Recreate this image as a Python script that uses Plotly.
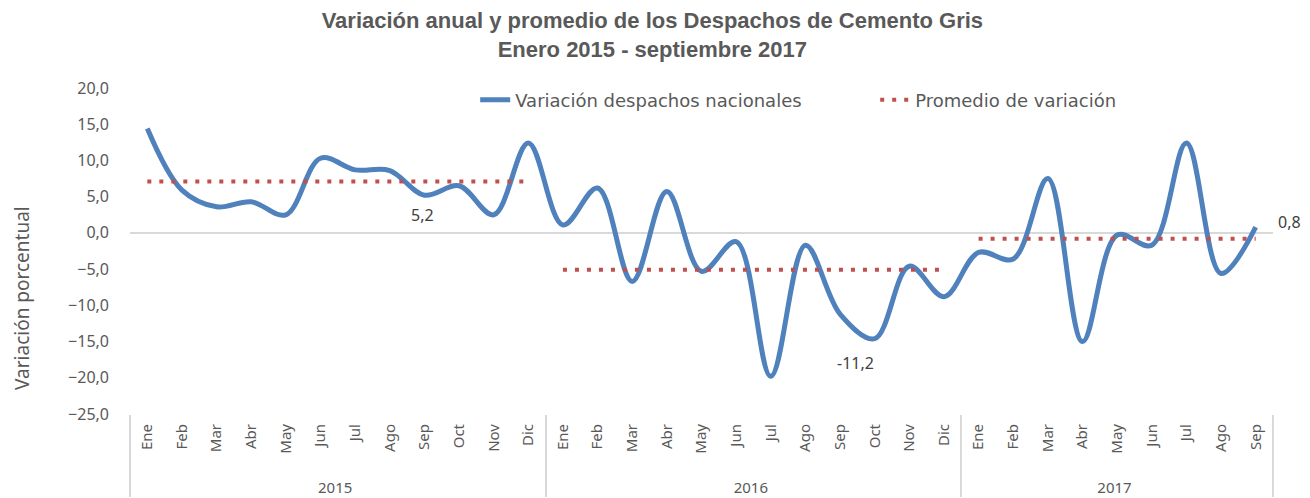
import plotly.graph_objects as go

months = ["Ene", "Feb", "Mar", "Abr", "May", "Jun", "Jul", "Ago", "Sep", "Oct", "Nov", "Dic"]
years = ["2015", "2016", "2017"]
months_per_year = [12, 12, 9]

values_2015 = [14.4, 5.9, 3.6, 4.3, 2.5, 10.3, 8.7, 8.6, 5.2, 6.5, 2.5, 12.4]
values_2016 = [1.1, 6.2, -6.7, 5.7, -5.3, -1.2, -19.8, -1.7, -11.2, -14.6, -4.6, -8.8]
values_2017 = [-2.7, -3.6, 7.5, -15.0, -0.3, -1.7, 12.4, -5.6, 0.8]
averages = [7.1, -5.1, -0.8]

series = [values_2015, values_2016, values_2017]

# month labels padded with non-breaking spaces so the year row sits lower, as in the reference
PAD = "\u00a0" * 4
month_labels = [PAD + m for m in months]

x_year, x_month, y_all = [], [], []
for yr, n, vals in zip(years, months_per_year, series):
    x_year += [yr] * n
    x_month += month_labels[:n]
    y_all += vals

fig = go.Figure()
fig.add_trace(go.Scatter(
    x=[x_year, x_month], y=y_all, mode="lines",
    line=dict(color="#4F81BD", width=5, shape="spline", smoothing=1.0),
    name="Variación despachos nacionales",
))
for i, (yr, n, avg) in enumerate(zip(years, months_per_year, averages)):
    fig.add_trace(go.Scatter(
        x=[[yr] * n, month_labels[:n]], y=[avg] * n, mode="lines",
        line=dict(color="#C0504D", width=4, dash="4px,8px"),
        name="Promedio de variación", showlegend=(i == 0),
    ))

# data labels at the last point of each year (Sep)
label_font = dict(family="Noto Sans", size=16, color="#404040")
fig.add_annotation(x=8, y=values_2015[8], xref="x", yref="y", text="5,2",
                   showarrow=False, yshift=-20, xshift=-2, font=label_font)
fig.add_annotation(x=20, y=values_2016[8], xref="x", yref="y", text="-11,2",
                   showarrow=False, yshift=-49, xshift=15, font=label_font)
fig.add_annotation(x=32, y=values_2017[8], xref="x", yref="y", text="0,8",
                   showarrow=False, yshift=5, xshift=34, font=label_font)

# y-axis title
fig.add_annotation(x=-0.0945, y=0.356, xref="paper", yref="paper",
                   xanchor="center", yanchor="middle",
                   text="Variación porcentual", textangle=-90, showarrow=False,
                   font=dict(family="Noto Sans", size=19, color="#595959"))

fig.update_layout(
    width=1310, height=498,
    margin=dict(l=130, r=37, t=88, b=84, autoexpand=False),
    paper_bgcolor="white", plot_bgcolor="white",
    separators=",.",
    title=dict(
        text="<b>Variación anual y promedio de los Despachos de Cemento Gris<br>Enero 2015 - septiembre 2017</b>",
        x=0.498, xanchor="center", xref="container", y=0.943, yanchor="middle", yref="container",
        font=dict(family="Liberation Sans, Arial", size=22, color="#595959"),
    ),
    legend=dict(
        orientation="h", x=0.302, y=0.963, xanchor="left", yanchor="middle",
        font=dict(family="DejaVu Sans", size=18, color="#595959"),
        bgcolor="rgba(0,0,0,0)", entrywidth=355, entrywidthmode="pixels",
    ),
    showlegend=True,
)
fig.update_yaxes(
    range=[-25, 20], dtick=5, tickformat=".1f",
    showgrid=False, zeroline=True, zerolinecolor="#D9D9D9", zerolinewidth=1.5,
    tickfont=dict(family="Noto Sans", size=16, color="#595959"),
    ticks="", showline=False, ticklabelstandoff=20, automargin=False,
)
fig.update_xaxes(
    type="multicategory", tickangle=-90, range=[-0.5, 32.5],
    tickfont=dict(family="Noto Sans", size=15, color="#595959"),
    showdividers=True, dividercolor="#D9D9D9", dividerwidth=1.5,
    showline=False, showgrid=False, ticks="", ticklabelstandoff=6, automargin=False,
)

fig.write_html("out.html", config={"displayModeBar": False},
               post_script="document.body.style.margin='0';")
